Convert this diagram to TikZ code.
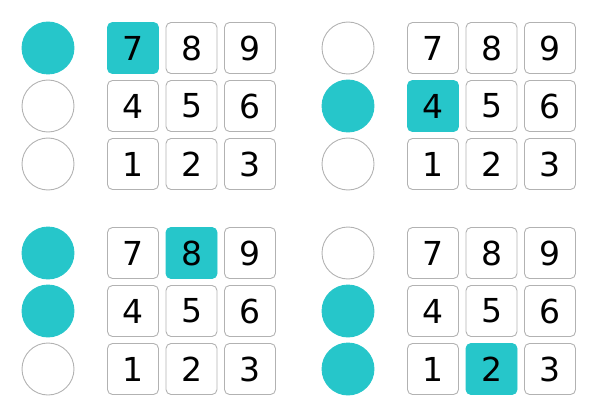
\documentclass[tikz,border=0pt]{standalone}
\usepackage{fontspec}
\setmainfont{DejaVu Sans}
\usepackage{tikz}

\definecolor{keyteal}{RGB}{38,198,202}
\definecolor{rimgray}{RGB}{178,178,178}

\tikzset{
  lamp/.style={circle,draw=rimgray,line width=0.9pt,minimum size=52pt,inner sep=0pt},
  lampon/.style={lamp,draw=keyteal,fill=keyteal},
  key/.style={rectangle,rounded corners=5pt,draw=rimgray,line width=0.9pt,minimum size=51pt,inner sep=0pt,font=\fontsize{33}{33}\selectfont},
  keyon/.style={key,draw=keyteal,fill=keyteal}
}

\begin{document}
\begin{tikzpicture}[x=1pt,y=-1pt]
\useasboundingbox (0,0) rectangle (602,401);
\foreach \p/\px/\py/\la/\lb/\lc/\hit in {a/0/0/lampon/lamp/lamp/7,b/300/0/lamp/lampon/lamp/4,c/0/205/lampon/lampon/lamp/8,d/300/205/lamp/lampon/lampon/2}{
  % lamps on the left
  \node[\la] (\p-l1) at (\px+48,\py+48) {};
  \node[\lb] (\p-l2) at (\px+48,\py+106) {};
  \node[\lc] (\p-l3) at (\px+48,\py+164) {};
  % keypad
  \foreach \k [count=\i from 0] in {7,8,9,4,5,6,1,2,3}{
    \pgfmathtruncatemacro{\col}{mod(\i,3)}
    \pgfmathtruncatemacro{\row}{div(\i,3)}
    \def\kst{key}
    \ifnum\k=\hit \def\kst{keyon}\fi
    \node[\kst] (\p-k\k) at (\px+133+58.5*\col,\py+48+58*\row) {\k};
  }
}
\end{tikzpicture}
\end{document}
